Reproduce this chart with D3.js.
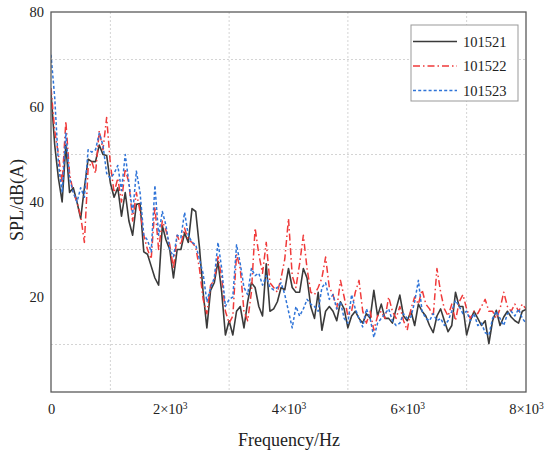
<!DOCTYPE html>
<html>
<head>
<meta charset="utf-8">
<script src="https://cdn.jsdelivr.net/npm/d3@7"></script>
<style>
  html, body { margin: 0; padding: 0; background: #fff; }
  svg { display: block; }
  text { font-family: "Liberation Serif", "Times New Roman", serif; fill: #222; }
</style>
</head>
<body>
<svg id="chart" width="544" height="452"></svg>
<script>
// ---- data ----
const freqStep = 62.5; // Hz between consecutive samples
const seriesNames = ["101521", "101522", "101523"];
const s101521 = [63,52,45,40,52,42,43,40,36.5,43,49,48.5,48.5,52,50,49.8,44,41,43,37,42,36,33,39.5,39.7,
  29.5,29,26.5,24,22.5,35,32,30,24,30,30,33.5,31.5,38.6,38,30.5,21,13.5,21.4,23,27.5,21,12,15,12,
  17,18,13.5,19,23,22,18,16,27,17,17.5,19,22,21.5,26,22,21,21,26,24,18,15.5,21,13,17,18,17,
  15,19,17.5,13.5,16,17,15.5,14.5,16.5,15.5,21.4,16,18.5,15.5,15.5,14.5,17.5,20.4,16,15,17,14,18.5,17,16,
  14,12.5,16,17.5,15,12.7,14,21,18,18,12,15,17,15.5,14,15,10.2,15,17.2,14,15.8,17,15.8,15,14.5,17,17.4];
const s101522 = [64,55,50,44,57,46,42,40,37,31.5,47,48.5,46,55,51,57.8,48,42,45,40,47,44,36,42,38,
  33,30,28,39,30,36,34,31,26,33,31,34.5,32,31.5,30.5,26,19.5,16.5,22.5,23.5,28.5,24,17,14.5,16,
  29,26,17,15,21,34.5,29,25,31.5,23,22,21,24,28,36.5,24.5,22,27,33,26,21,20.5,22,24,28.4,22,20.5,
  17.5,23.5,20,16,17,21,23.5,17,14.5,17,13,16,17,15.5,20,17,15.5,18,15,13,17.5,20,18.5,21.5,18.5,
  17.5,16,26,21,17.5,16,18.5,15,19,20.5,17.5,15.5,17,16.5,18,19.5,17,17,15.5,17.5,21,18,17,18.5,17,18.5,17.5];
const s101523 = [71,62,48,42,54.5,45,42,40,43,41,51,50.5,51,54.5,52,46,45,46,47.7,42.4,50,44,37.5,46.5,42,
  33,32,29.5,43.5,33,38,35,30,28.5,33,32.5,37.8,33,31.5,31,28,24.9,19,22,24,31.5,26,18,19.5,20,
  31,27,22,20.5,26,24.5,25,22.5,24.5,22,21.5,22,23,20.5,17,13.5,18,16,17.5,19.5,18.5,18,17,22,23,19.5,20.5,
  17.5,19,15.5,14.5,20.5,17.5,15.5,13.7,17.5,15.5,11.5,14.5,15.5,16.5,17.5,15,14,14.5,16.5,15.5,15.8,19,23.5,17,15.5,
  15,16.5,15,15.5,14,15,17,19.3,18,16.5,17,15,16.5,14,14.5,12.5,12,15.5,17,15.5,14,16.5,17,16,17.5,15.5,14.5];
const xTickValues = [0, 2000, 4000, 6000, 8000];
const xTickMantissa = ["0", "2", "4", "6", "8"];
const yTickValues = [20, 40, 60, 80];
const xGridValues = [1000, 3000, 5000, 7000];
const yGridValues = [10, 30, 50, 70];
const seriesColors = ["#3a3a3a", "#f03a3a", "#2f74d8"];
const seriesDash = [null, "7,3,1.5,3", "3,2.2"];

// ---- layout ----
const svg = d3.select("#chart");
const plot = { left: 51, right: 526, top: 12, bottom: 392 };
const x = d3.scaleLinear().domain([0, 8000]).range([plot.left, plot.right]);
const y = d3.scaleLinear().domain([0, 80]).range([plot.bottom, plot.top]);

// grid
svg.append("g").selectAll("line").data(xGridValues).join("line")
  .attr("x1", d => x(d)).attr("x2", d => x(d))
  .attr("y1", plot.top).attr("y2", plot.bottom)
  .attr("stroke", "#d4d4d4").attr("stroke-width", 1).attr("stroke-dasharray", "2,2");
svg.append("g").selectAll("line").data(yGridValues).join("line")
  .attr("y1", d => y(d)).attr("y2", d => y(d))
  .attr("x1", plot.left).attr("x2", plot.right)
  .attr("stroke", "#d4d4d4").attr("stroke-width", 1).attr("stroke-dasharray", "2,2");

// clip
svg.append("defs").append("clipPath").attr("id", "clip")
  .append("rect").attr("x", plot.left).attr("y", plot.top)
  .attr("width", plot.right - plot.left).attr("height", plot.bottom - plot.top);

// lines
const allSeries = [s101521, s101522, s101523];
const line = d3.line().x((d, i) => x(i * freqStep)).y(d => y(d));
const lg = svg.append("g").attr("clip-path", "url(#clip)");
allSeries.forEach((s, k) => {
  lg.append("path").datum(s)
    .attr("d", line)
    .attr("fill", "none")
    .attr("stroke", seriesColors[k])
    .attr("stroke-width", k === 0 ? 1.6 : 1.5)
    .attr("stroke-linejoin", "round")
    .attr("stroke-dasharray", seriesDash[k]);
});

// frame
svg.append("rect")
  .attr("x", plot.left).attr("y", plot.top)
  .attr("width", plot.right - plot.left).attr("height", plot.bottom - plot.top)
  .attr("fill", "none").attr("stroke", "#5a5a5a").attr("stroke-width", 1.3);

// axes
const xAxis = svg.append("g").attr("transform", `translate(0,${plot.bottom})`)
  .call(d3.axisBottom(x).tickValues(xTickValues).tickSize(0).tickPadding(12).tickFormat(() => ""));
xAxis.select(".domain").remove();
xAxis.selectAll(".tick text").each(function(d, i) {
  const t = d3.select(this);
  t.attr("font-size", 14.5).attr("font-family", "Liberation Serif").attr("fill", "#222");
  if (d === 0) {
    t.text(xTickMantissa[i]);
  } else {
    t.append("tspan").text(xTickMantissa[i] + "\u00d710");
    t.append("tspan").attr("font-size", 9.5).attr("dy", -5.5).text("3");
  }
});

const yAxis = svg.append("g").attr("transform", `translate(${plot.left},0)`)
  .call(d3.axisLeft(y).tickValues(yTickValues).tickSize(0).tickPadding(7));
yAxis.select(".domain").remove();
yAxis.selectAll(".tick text").attr("font-size", 14.5)
  .attr("font-family", "Liberation Serif").attr("fill", "#222");

// axis titles
svg.append("text").attr("x", 289).attr("y", 446)
  .attr("text-anchor", "middle").attr("font-size", 18).text("Frequency/Hz");
svg.append("text").attr("transform", "translate(23,200) rotate(-90)")
  .attr("text-anchor", "middle").attr("font-size", 18).text("SPL/dB(A)");

// legend
const leg = svg.append("g");
leg.append("rect").attr("x", 411).attr("y", 25).attr("width", 107).attr("height", 76)
  .attr("fill", "#fff").attr("stroke", "#999").attr("stroke-width", 1);
seriesNames.forEach((name, k) => {
  const yy = 41.5 + k * 24.5;
  leg.append("line").attr("x1", 413).attr("x2", 457).attr("y1", yy).attr("y2", yy)
    .attr("stroke", seriesColors[k]).attr("stroke-width", 1.5)
    .attr("stroke-dasharray", seriesDash[k]);
  leg.append("text").attr("x", 463).attr("y", yy).attr("dy", "0.35em")
    .attr("font-size", 14.5).text(name);
});
</script>
</body>
</html>
